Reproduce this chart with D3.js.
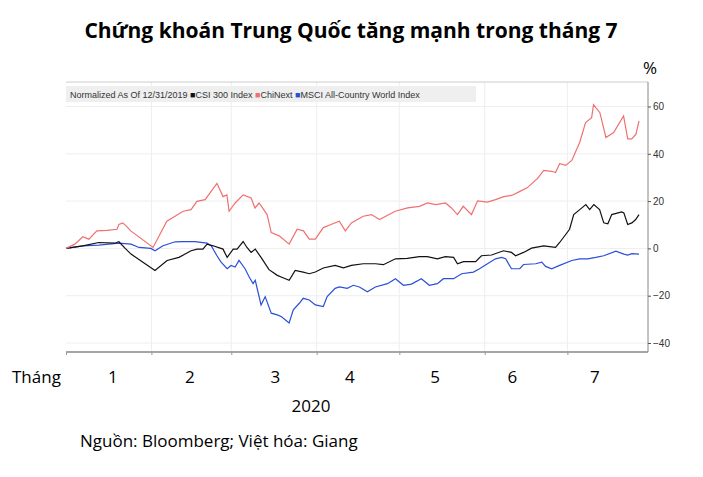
<!DOCTYPE html>
<html><head><meta charset="utf-8">
<script src="https://cdn.jsdelivr.net/npm/d3@7"></script>
<style>body{margin:0;background:#fff}svg{display:block}</style>
</head><body><svg id="c" width="703" height="477"></svg>
<script>
// days since 12/31/2019, value = % change
const chiNext = [[0,0],[3.2,1.8],[6.1,4.9],[8.3,3.9],[11.2,7.4],[14.9,7.6],[18.5,8.1],[19.2,10.1],[20.6,10.8],[22.1,9.2],[23.5,7.4],[31.6,0.4],[36.6,11.5],[39.6,13.6],[42.5,15.7],[45.4,16.4],[47.5,19.9],[50.5,20.6],[54.8,27.5],[57,21.9],[58.4,22.6],[59.2,15.7],[61.4,19.2],[64.3,22.6],[67.2,21.3],[68.6,17.1],[70.1,19.2],[73,14.3],[74.5,6.7],[77.4,5.3],[81,1.8],[83.9,8.1],[86.2,7.4],[88.3,3.9],[90.5,3.9],[93.4,8.8],[96.2,10.1],[99.2,11.5],[101.4,7.4],[103.6,10.8],[107.9,13.6],[110.9,14.3],[113.8,12.2],[119.5,15.7],[124,17.1],[128.3,17.8],[131.2,19.2],[134.2,18.5],[137.8,19.2],[139.9,17.1],[142.1,14.3],[144.2,17.8],[147.2,14.3],[149.4,20.1],[153,19.6],[155.9,20.6],[158.9,21.9],[161.8,22.4],[164.6,24],[167.5,25.7],[171.2,29.6],[173.4,33],[176.3,32.6],[177.7,32.1],[179.2,35.8],[181.4,35.1],[183.6,37.2],[186.5,44.9],[188.6,53.2],[190.8,55.3],[191.5,60.8],[193.8,57.4],[196,46.9],[198.8,49],[202.4,56],[203.9,46.3],[205.4,46.3],[206.9,48.3],[208,53.9]];
const csi300 = [[0,0],[6.1,1.1],[11.9,2.5],[17.7,2.2],[19.2,2.8],[21.4,0.1],[23.6,-2.4],[32.3,-9.3],[36.7,-5.1],[41,-3.8],[45.4,-1],[47.6,-0.3],[49.7,-0.3],[51.2,1.8],[53.4,1.1],[57,-0.3],[58.5,-3.8],[60.7,-0.3],[62.1,-0.3],[64.3,2.9],[65.7,0.4],[67.2,-1.7],[68.7,-0.3],[70.8,-3.8],[73.7,-9],[76.7,-11.4],[78.1,-12.1],[81,-13.5],[83.2,-9.3],[86.1,-10],[88.3,-10.7],[90.5,-10],[93.4,-8.3],[97.7,-7.2],[100.7,-8.2],[103.6,-7.2],[107.9,-6.5],[112.3,-6.5],[115.2,-6.9],[119.6,-4.4],[123.9,-4.2],[128.3,-3.5],[131.2,-3.5],[134.8,-4.4],[137.7,-3.5],[140.7,-3.8],[142.1,-6.5],[144.3,-5.6],[148.7,-5.6],[150.8,-3.1],[154.5,-2.8],[158.8,-1],[161.7,-1.7],[163.2,-3.1],[166.1,-1.7],[169,0.1],[173.4,1.1],[177.7,0.4],[179.2,2.5],[182.8,8.1],[184.3,14.3],[186.5,16.4],[188.7,18.5],[190.1,16.4],[191.6,18.5],[193.7,16.4],[195.2,10.8],[196.7,10.4],[198.1,14.3],[201.7,15.4],[202.5,15],[203.9,10.1],[205.4,10.8],[206.8,12.2],[208,14.3]];
const msci = [[0,0],[6.1,1.1],[11.9,1.4],[19.2,2.2],[23.6,1.8],[26.5,0.4],[30.8,0],[32.3,-1],[35.2,1.1],[39.6,2.8],[42.5,2.9],[46.8,2.9],[51.2,2.2],[52.7,1.1],[54.8,-3.1],[56.3,-5.8],[58.5,-8.6],[59.9,-7.2],[61.4,-7.9],[62.8,-5.1],[65,-8.6],[66.5,-12.1],[67.9,-14.9],[68.7,-13.5],[70.8,-23.9],[72.3,-20.4],[74.5,-27.4],[76.7,-28.1],[78.1,-28.8],[81,-31.5],[82.5,-26],[84.7,-23.2],[86.1,-21.1],[88.3,-21.8],[90.5,-23.9],[93.4,-24.6],[94.8,-20.4],[97.7,-16.9],[99.2,-16.3],[102.1,-16.9],[104.3,-15.6],[106.5,-16.3],[109.4,-18.3],[112.3,-16.3],[116.7,-14.9],[119.6,-12.8],[122.5,-15.6],[125.4,-15.1],[129,-12.8],[131.9,-15.6],[134.8,-14.9],[137,-12.8],[140.7,-12.8],[143.6,-10.7],[147.9,-10],[150.1,-8.6],[153,-6.5],[155.9,-4.4],[158.1,-3.8],[159.6,-4.4],[161.7,-8.6],[164.7,-8.6],[166.1,-6.8],[170.5,-6.5],[172.7,-5.8],[174.1,-7.6],[176.3,-8.6],[179.2,-7.2],[183.6,-5.1],[186.5,-4.4],[189.4,-4.4],[192.3,-3.8],[195.2,-3.1],[199.6,-1.2],[202.5,-2.4],[203.9,-2.8],[205.4,-2.2],[208,-2.4]];
const yTicks = [60, 40, 20, 0, -20, -40];
const monthStarts = [0, 31, 60, 91, 121, 152, 182];
const monthLabels = ["1", "2", "3", "4", "5", "6", "7"];
const monthMid = [17, 45, 76, 103, 134, 162, 192];
const legendItems = [["CSI 300 Index", "#111"], ["ChiNext", "#f07070"], ["MSCI All-Country World Index", "#2a4fd8"]];

const svg = d3.select('#c');
const x = d3.scaleLinear().domain([0, 208]).range([66, 639]);
const y = d3.scaleLinear().domain([60, -40]).range([106.5, 343]);
const axisX = 648, plotTop = 82, plotBottom = 352;

svg.append('text').attr('x', 351).attr('y', 38).attr('text-anchor', 'middle')
  .attr('font-family', 'Open Sans').attr('font-weight', 'bold').attr('font-size', 21)
  .text('Chứng khoán Trung Quốc tăng mạnh trong tháng 7');
svg.append('text').attr('x', 643).attr('y', 74).attr('font-family', 'Open Sans').attr('font-size', 17).text('%');

// grid
svg.append('g').selectAll('line').data(yTicks).join('line')
  .attr('x1', 66).attr('x2', axisX).attr('y1', d => y(d)).attr('y2', d => y(d))
  .attr('stroke', '#eee');
svg.append('g').selectAll('line').data(monthStarts.slice(1)).join('line')
  .attr('x1', d => x(d)).attr('x2', d => x(d)).attr('y1', plotTop).attr('y2', plotBottom)
  .attr('stroke', '#eee');
svg.append('line').attr('x1', 66).attr('x2', axisX).attr('y1', plotTop).attr('y2', plotTop).attr('stroke', '#ccc');

// right axis
const ra = svg.append('g').attr('transform', `translate(${axisX},0)`)
  .call(d3.axisRight(y).tickValues(yTicks).tickSize(3).tickPadding(2));
ra.select('.domain').attr('d', `M0,${plotTop}V${plotBottom}`).attr('stroke', '#888');
ra.selectAll('line').attr('stroke', '#555');
ra.selectAll('text').attr('font-family', 'Liberation Sans Narrow, Liberation Sans').attr('font-size', 10).attr('fill', '#333');

// bottom axis
const ba = svg.append('g').attr('transform', `translate(0,${plotBottom})`)
  .call(d3.axisBottom(x).tickValues(monthStarts).tickSize(3).tickFormat(''));
ba.select('.domain').attr('d', `M66,0H${axisX}`).attr('stroke', '#888').attr('stroke-width', 1.5);
ba.selectAll('line').attr('stroke', '#999');

// legend
const lg = svg.append('g');
lg.append('rect').attr('x', 66).attr('y', 86).attr('width', 410).attr('height', 16).attr('fill', '#efefef');
const lt = lg.append('text').attr('x', 70).attr('y', 98).attr('font-family', 'Liberation Sans Narrow, Liberation Sans').attr('font-size', 9).attr('fill', '#333');
lt.append('tspan').text('Normalized As Of 12/31/2019 ');
legendItems.forEach(([n, c]) => {
  lt.append('tspan').attr('fill', c).text('■');
  lt.append('tspan').text(n + ' ');
});

const line = d3.line().x(d => x(d[0])).y(d => y(d[1]));
[[msci, '#2a4fd8'], [csi300, '#111'], [chiNext, '#f07070']].forEach(([s, c]) => {
  svg.append('path').datum(s).attr('d', line).attr('fill', 'none').attr('stroke', c).attr('stroke-width', 1.2);
});

svg.append('text').attr('x', 12).attr('y', 383).attr('font-family', 'Open Sans').attr('font-size', 17).text('Tháng');
svg.append('g').selectAll('text').data(monthLabels).join('text')
  .attr('x', (d, i) => x(monthMid[i])).attr('y', 383).attr('text-anchor', 'middle')
  .attr('font-family', 'Open Sans').attr('font-size', 17).text(d => d);
svg.append('text').attr('x', 311).attr('y', 412).attr('text-anchor', 'middle').attr('font-family', 'Open Sans').attr('font-size', 17).text('2020');
svg.append('text').attr('x', 80).attr('y', 447).attr('font-family', 'Open Sans').attr('font-size', 17).text('Nguồn: Bloomberg; Việt hóa: Giang');
</script></body></html>
